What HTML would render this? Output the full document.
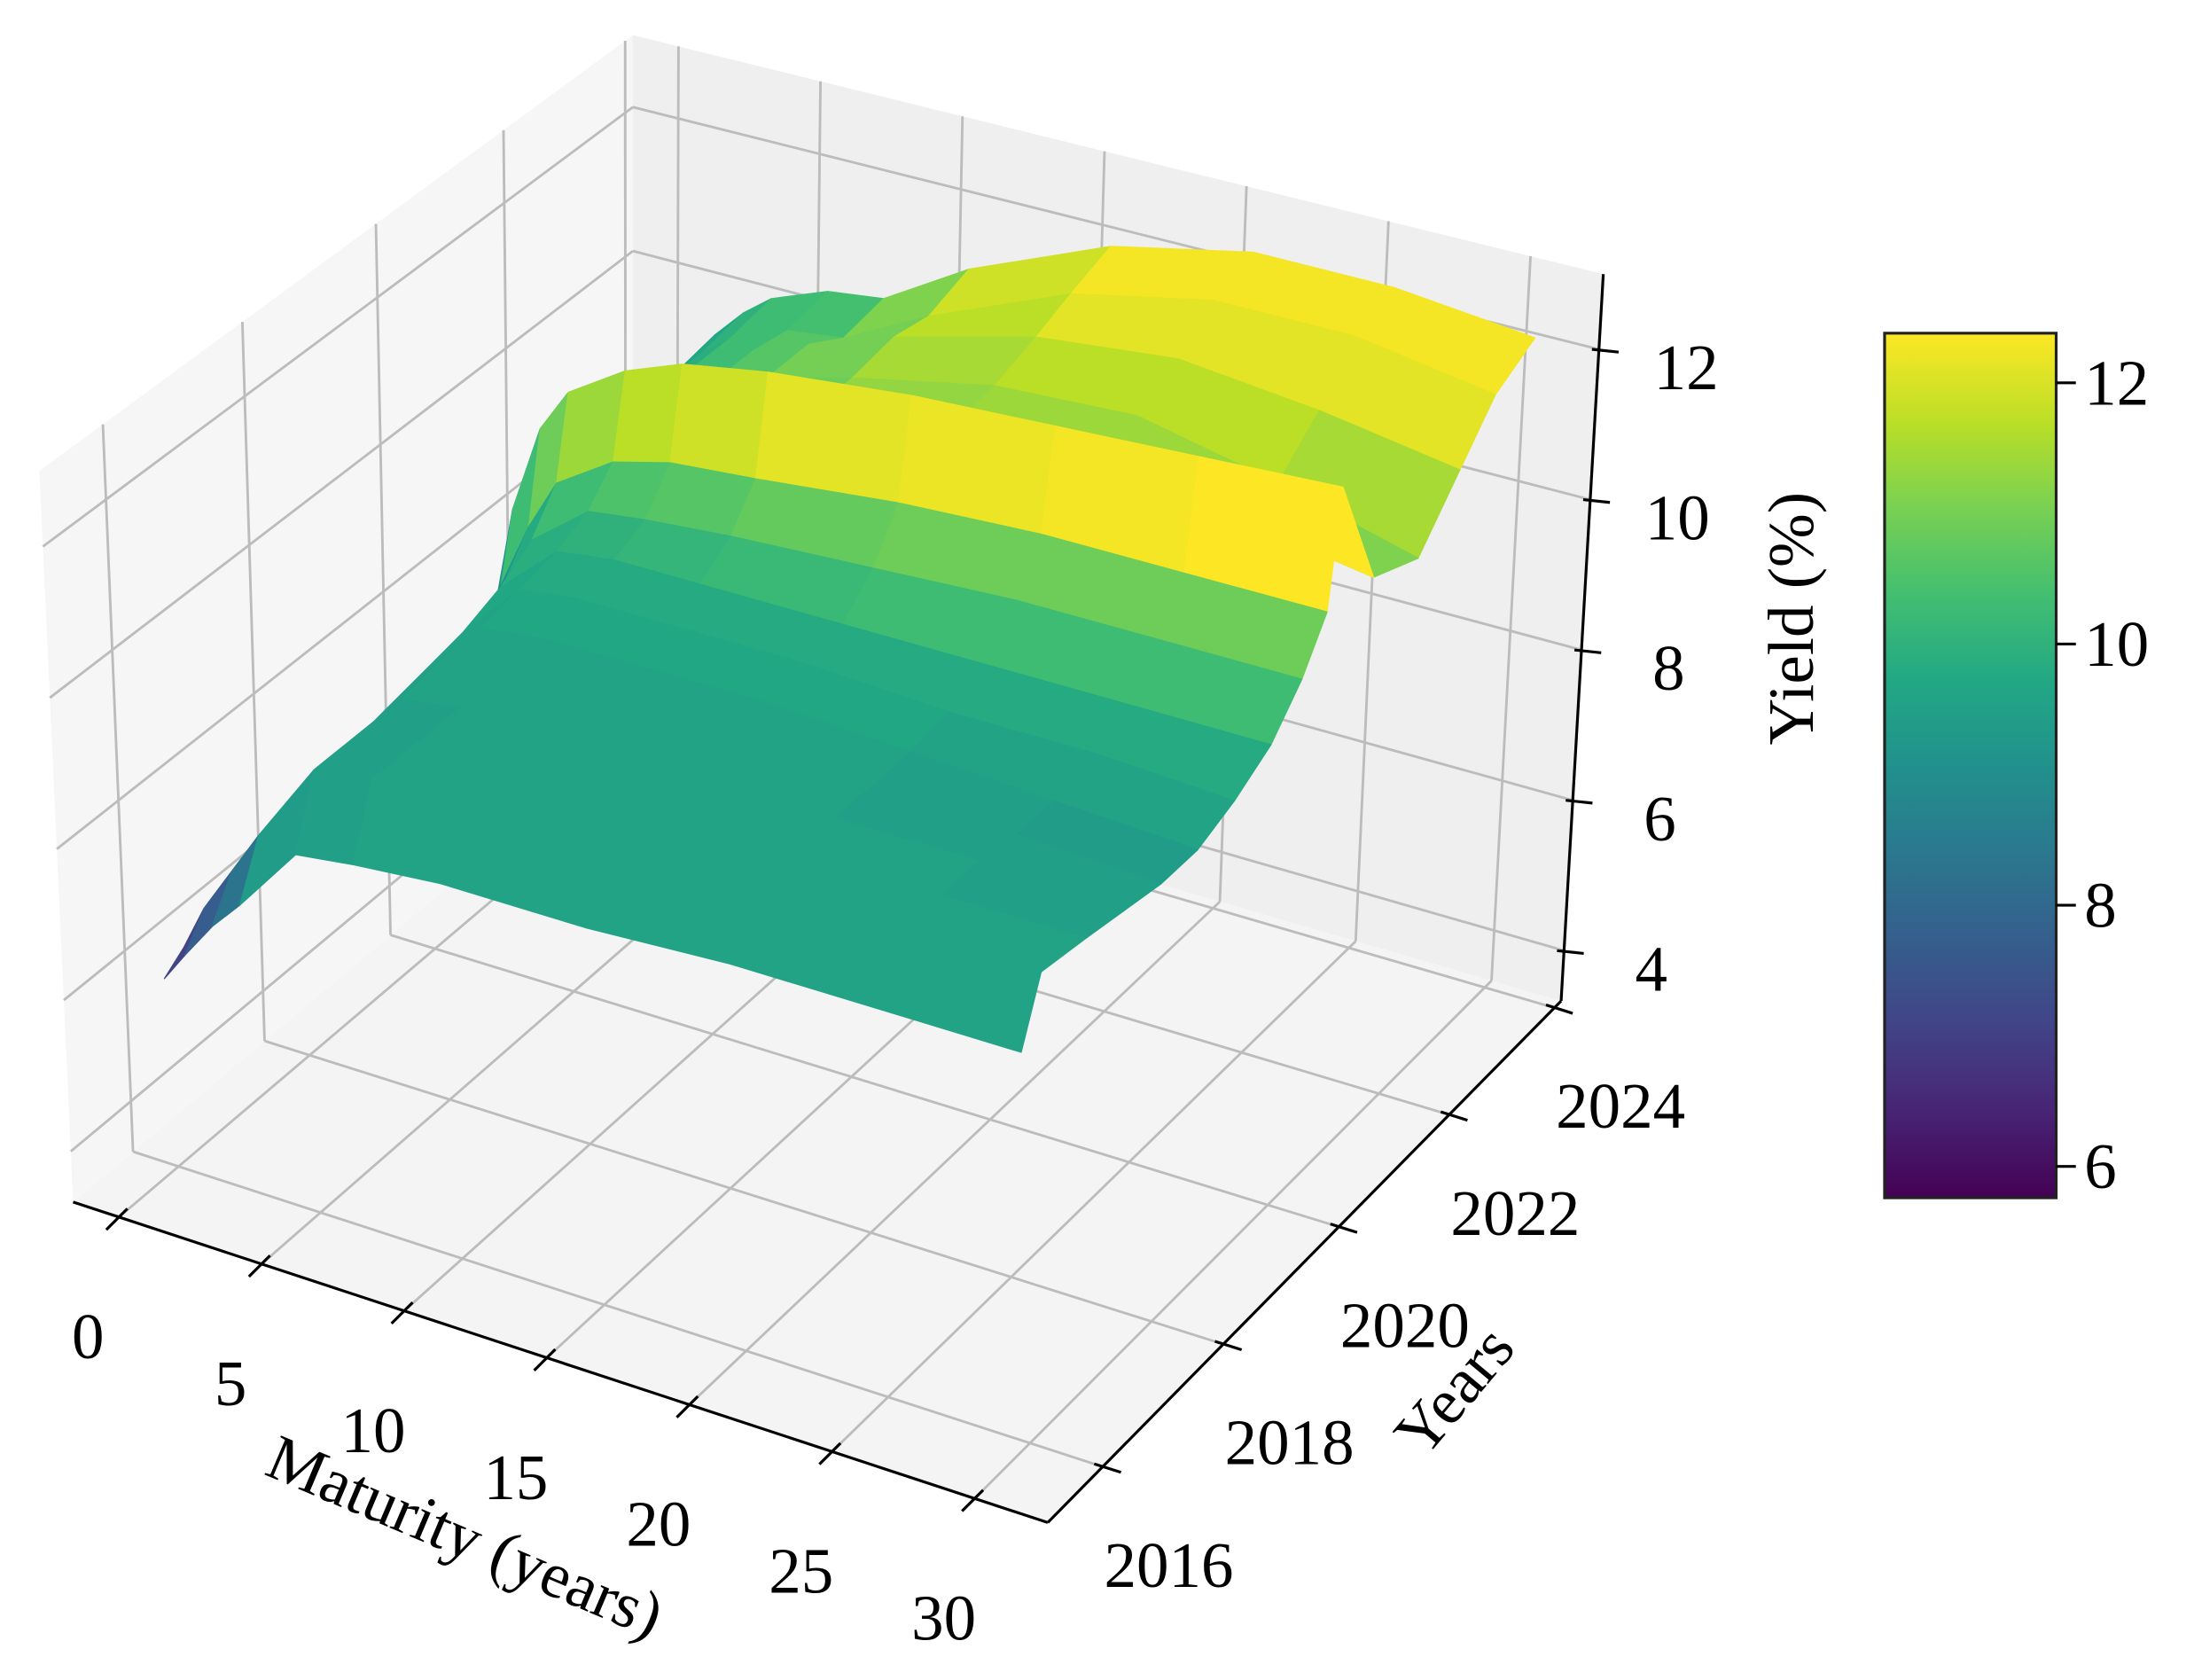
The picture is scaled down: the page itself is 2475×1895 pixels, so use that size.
<!DOCTYPE html>
<html><head><meta charset="utf-8"><style>
html,body{margin:0;padding:0;background:#fff;}
svg{display:block;font-family:"Liberation Serif","Times New Roman",serif;}
text{font-family:"Liberation Serif","Times New Roman",serif;fill:#000;}
</style></head><body>
<svg id="chart" width="2475" height="1895" viewBox="0 0 1560 1195" preserveAspectRatio="none" xmlns="http://www.w3.org/2000/svg" font-family="Liberation Serif, serif">
<defs>
<linearGradient id="vir" x1="0" y1="1" x2="0" y2="0">
<stop offset="0" stop-color="#440154"/><stop offset="0.1" stop-color="#482475"/><stop offset="0.2" stop-color="#414487"/><stop offset="0.3" stop-color="#355f8d"/><stop offset="0.4" stop-color="#2a788e"/><stop offset="0.5" stop-color="#21918c"/><stop offset="0.6" stop-color="#22a884"/><stop offset="0.7" stop-color="#44bf70"/><stop offset="0.8" stop-color="#7ad151"/><stop offset="0.9" stop-color="#bddf26"/><stop offset="1" stop-color="#fde725"/>
</linearGradient>
</defs>
<g id="panes"></g>
<g id="grid"></g>
<g id="surface"></g>
<g id="axes"></g>
<g id="labels"></g>
<text x="330" y="1108" font-size="46" text-anchor="middle" font-family="Liberation Serif, serif" transform="rotate(23 330 1095)">Maturity (years)</text>
<text x="1035" y="1004" font-size="46" text-anchor="middle" font-family="Liberation Serif, serif" transform="rotate(-50 1035 990)">Years</text>
<text x="1275" y="454" font-size="46" text-anchor="middle" font-family="Liberation Serif, serif" transform="rotate(-90 1275 440)">Yield (%)</text>
<g id="cbar">
<rect x="1340" y="237" width="122" height="615" fill="url(#vir)" stroke="#222" stroke-width="2"/>
</g>
</svg>
<script>
const maturities = [0.25, 1, 2, 3, 5, 7, 10, 15, 20, 25, 30];
const years = [2015.8, 2016.1, 2016.8, 2017.4, 2018.0, 2018.6, 2019.2, 2019.8, 2020.3, 2020.7, 2020.9, 2021.5, 2022.3, 2023.0, 2023.6, 2024.3];
const yields = [
[6.0, 6.4, 6.9, 7.3, 8.2, 8.3, 8.4, 8.4, 8.5, 8.5, 8.5],
[6.2, 6.8, 7.4, 8.0, 9.1, 9.2, 9.3, 9.3, 9.3, 9.3, 9.3],
[6.3, 6.9, 7.5, 8.1, 9.1, 9.2, 9.3, 9.3, 9.3, 9.2, 9.2],
[6.4, 7.0, 7.6, 8.2, 9.1, 9.2, 9.3, 9.3, 9.2, 9.2, 9.1],
[6.4, 7.1, 7.7, 8.3, 9.2, 9.3, 9.3, 9.3, 9.2, 9.1, 9.0],
[6.5, 7.2, 7.8, 8.4, 9.2, 9.3, 9.3, 9.3, 9.2, 9.1, 9.0],
[6.5, 7.2, 7.9, 8.5, 9.3, 9.4, 9.4, 9.4, 9.3, 9.3, 9.2],
[6.6, 7.3, 8.0, 8.7, 9.4, 9.5, 9.5, 9.5, 9.5, 9.5, 9.5],
[6.8, 7.5, 8.3, 9.0, 9.6, 9.7, 9.8, 9.9, 10.0, 10.0, 10.0],
[6.9, 7.9, 8.8, 9.5, 10.0, 10.2, 10.3, 10.5, 10.6, 10.6, 10.6],
[7.2, 8.8, 10.0, 10.6, 11.1, 11.4, 11.6, 11.8, 11.9, 12.0, 12.1],
[8.0, 8.8, 9.3, 9.6, 10.0, 10.3, 10.6, 10.9, 11.0, 10.8, 10.5],
[8.2, 8.8, 9.3, 9.6, 10.0, 10.3, 10.6, 11.0, 11.1, 10.7, 10.2],
[8.4, 8.9, 9.3, 9.6, 10.0, 10.3, 10.7, 11.2, 11.4, 11.2, 10.9],
[8.5, 8.9, 9.3, 9.6, 9.9, 10.0, 10.6, 11.4, 11.8, 11.8, 11.5],
[8.6, 9.0, 9.4, 9.7, 10.0, 10.1, 10.8, 11.6, 12.0, 12.0, 11.8]
];
const matTicks = [0, 5, 10, 15, 20, 25, 30];
const yearTicks = [2016, 2018, 2020, 2022, 2024];
const zTicks = [4, 6, 8, 10, 12];
const cbarTicks = [6, 8, 10, 12];

const NS = "http://www.w3.org/2000/svg";
const ZMIN = 3.33, ZMAX = 13.0, VMIN = 5.76, VMAX = 12.38, COLOR_SHIFT = 0.3;
const BOT = {A:[52,855], B:[745,1083], C:[1110,712], D:[450,520]};
const TOP = {A:[28,335], B:[750,543], C:[1140,195], D:[450,25]};
function uOf(m){ return 0.047 + m/30*0.878; }
function vOf(y){ const t=(y-2016)/8; return 0.107 + 0.96*t - 0.08*t*t; }
function wOf(z){ return (z-ZMIN)/(ZMAX-ZMIN); }
function bil(P,u,v,k){ return P.A[k]*(1-u)*(1-v)+P.B[k]*u*(1-v)+P.C[k]*u*v+P.D[k]*(1-u)*v; }
function projUVW(u,v,w){
  const bx=bil(BOT,u,v,0), by=bil(BOT,u,v,1), tx=bil(TOP,u,v,0), ty=bil(TOP,u,v,1);
  return [bx+(tx-bx)*w, by+(ty-by)*w];
}
function proj(m,y,z){ return projUVW(uOf(m), vOf(y), wOf(z)); }

const stops=[[0,"#440154"],[0.1,"#482475"],[0.2,"#414487"],[0.3,"#355f8d"],[0.4,"#2a788e"],[0.5,"#21918c"],[0.6,"#22a884"],[0.7,"#44bf70"],[0.8,"#7ad151"],[0.9,"#bddf26"],[1,"#fde725"]];
function hex(h){return [1,3,5].map(i=>parseInt(h.substr(i,2),16));}
function viridis(t){
  t=Math.max(0,Math.min(1,t));
  for(let i=0;i<stops.length-1;i++){
    if(t<=stops[i+1][0]){
      const f=(t-stops[i][0])/(stops[i+1][0]-stops[i][0]);
      const a=hex(stops[i][1]), b=hex(stops[i+1][1]);
      return "rgb("+a.map((c,k)=>Math.round(c+(b[k]-c)*f)).join(",")+")";
    }
  }
  return stops[stops.length-1][1];
}
function el(tag, attrs, parent){
  const e=document.createElementNS(NS,tag);
  for(const k in attrs) e.setAttribute(k,attrs[k]);
  parent.appendChild(e); return e;
}
function pts(arr){ return arr.map(p=>p[0].toFixed(1)+","+p[1].toFixed(1)).join(" "); }

// panes
const panes=document.getElementById("panes");
let p;
p=el("polygon",{points:pts([projUVW(0,0,0),projUVW(0,1,0),projUVW(0,1,1),projUVW(0,0,1)]),fill:"#f6f6f6"},panes);


p=el("polygon",{points:pts([projUVW(0,1,0),projUVW(1,1,0),projUVW(1,1,1),projUVW(0,1,1)]),fill:"#efefef"},panes);


p=el("polygon",{points:pts([projUVW(0,0,0),projUVW(1,0,0),projUVW(1,1,0),projUVW(0,1,0)]),fill:"#f4f4f4"},panes);



// grid
const grid=document.getElementById("grid");
function gline(a,b,name){
  const l=el("line",{x1:a[0],y1:a[1],x2:b[0],y2:b[1],stroke:"#bcbcbc","stroke-width":1.8},grid);
  
  
}
yearTicks.forEach(y=>{ const v=vOf(y);
  gline(projUVW(0,v,0),projUVW(0,v,1),'left-pane-gridline');
  gline(projUVW(0,v,0),projUVW(1,v,0),'floor-gridline');
});
matTicks.forEach(m=>{ const u=uOf(m);
  gline(projUVW(u,1,0),projUVW(u,1,1),'back-pane-gridline');
  gline(projUVW(u,0,0),projUVW(u,1,0),'floor-gridline');
});
zTicks.forEach(z=>{ const w=wOf(z);
  gline(projUVW(0,0,w),projUVW(0,1,w),'left-pane-gridline');
  gline(projUVW(0,1,w),projUVW(1,1,w),'back-pane-gridline');
});

// surface
const surf=document.getElementById("surface");
const quads=[];
for(let i=0;i<years.length-1;i++){
  for(let j=0;j<maturities.length-1;j++){
    const z=[yields[i][j],yields[i][j+1],yields[i+1][j+1],yields[i+1][j]];
    const cval=Math.max(z[0],z[1],z[2],z[3]);
    const poly=[proj(maturities[j],years[i],z[0]),proj(maturities[j+1],years[i],z[1]),proj(maturities[j+1],years[i+1],z[2]),proj(maturities[j],years[i+1],z[3])];
    const um=(uOf(maturities[j])+uOf(maturities[j+1]))/2, vm=(vOf(years[i])+vOf(years[i+1]))/2;
    quads.push({poly,cval,key:vm-um});
  }
}
quads.sort((a,b)=>b.key-a.key);
quads.forEach(q=>{
  const c=viridis((q.cval+COLOR_SHIFT-VMIN)/(VMAX-VMIN));
  const e=el("polygon",{points:pts(q.poly),fill:c,stroke:c,"stroke-width":0.8,"stroke-linejoin":"round"},surf);
  
  
});

// axes lines and ticks
const axes=document.getElementById("axes");
function aline(a,b,name,w){
  const l=el("line",{x1:a[0],y1:a[1],x2:b[0],y2:b[1],stroke:"#000","stroke-width":w||2},axes);
  
  
}
aline(projUVW(0,0,0),projUVW(1,0,0),'x-axis-line');
aline(projUVW(1,0,0),projUVW(1,1,0),'y-axis-line');
aline(projUVW(1,1,0),projUVW(1,1,1),'z-axis-line');
const labels=document.getElementById("labels");
function label(x,y,txt,name,anchor){
  const t=el("text",{x:x,y:y,"font-size":46,"text-anchor":anchor||"middle","dominant-baseline":"central","font-family":"Liberation Serif, serif"},labels);
  t.textContent=txt;
  
  
}
matTicks.forEach(m=>{
  const q=projUVW(uOf(m),0,0);
  aline([q[0]-9,q[1]+9],[q[0]+6,q[1]-6],'x-tick');
  label(q[0]-22,q[1]+85,String(m),'x-tick-label');
});
yearTicks.forEach(y=>{
  const q=projUVW(1,vOf(y),0);
  aline([q[0]-6,q[1]-2],[q[0]+13,q[1]+4],'y-tick');
  label(q[0]+47,q[1]+70,String(y),'y-tick-label');
});
zTicks.forEach(z=>{
  const q=projUVW(1,1,wOf(z));
  aline([q[0]-5,q[1]],[q[0]+14,q[1]+2],'z-tick');
  label(q[0]+62,q[1]+13,String(z),'z-tick-label');
});

// colorbar ticks
const cb=document.getElementById("cbar");
const CB_TOP=237, CB_BOT=852;
function cbY(v){ return CB_BOT-(v-VMIN)/(VMAX-VMIN)*(CB_BOT-CB_TOP); }
cbarTicks.forEach(v=>{
  const y=cbY(v);
  const l=el("line",{x1:1462,y1:y,x2:1476,y2:y,stroke:"#000","stroke-width":2},cb);
  
  
  const t=el("text",{x:1482,y:y,"font-size":46,"dominant-baseline":"central","font-family":"Liberation Serif, serif"},cb);
  t.textContent=String(v);
  
  
});
</script>
</body></html>
